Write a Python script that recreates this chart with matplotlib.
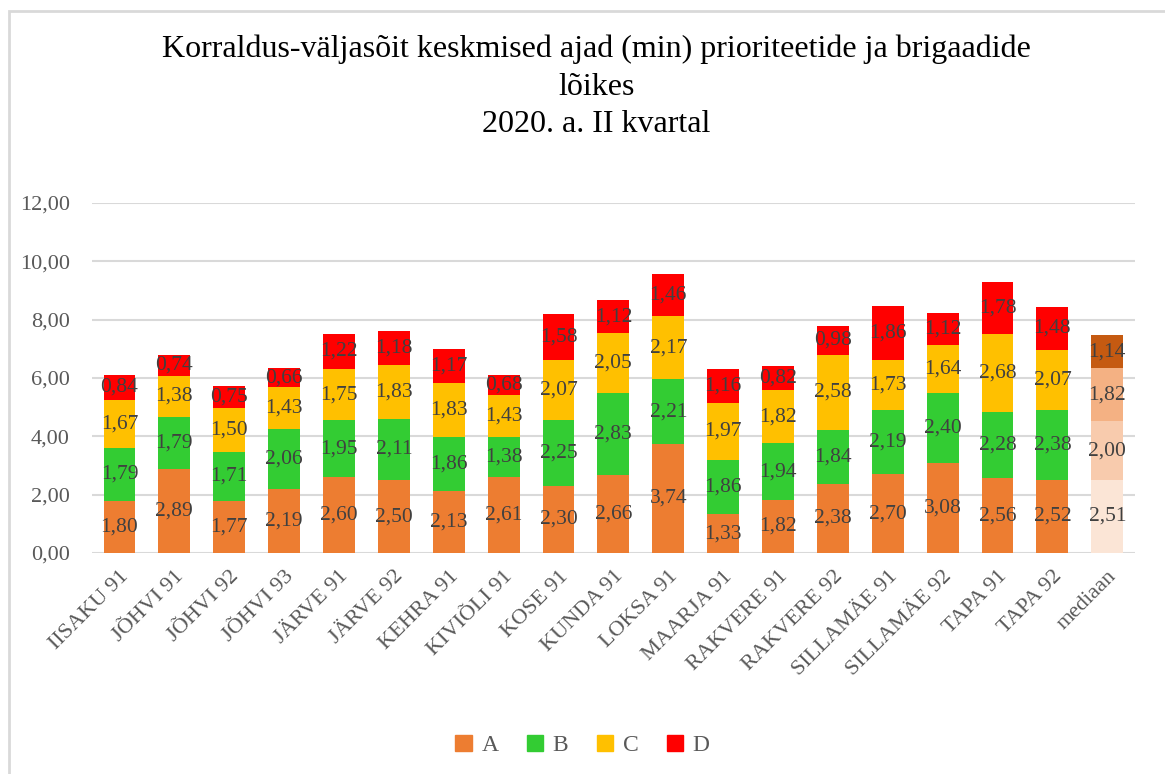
import numpy as np
import matplotlib
matplotlib.use('Agg')
import matplotlib.pyplot as plt
from matplotlib.patches import Rectangle

# data
brigades = ['IISAKU 91', 'JÕHVI 91', 'JÕHVI 92', 'JÕHVI 93', 'JÄRVE 91', 'JÄRVE 92',
            'KEHRA 91', 'KIVIÕLI 91', 'KOSE 91', 'KUNDA 91', 'LOKSA 91', 'MAARJA 91',
            'RAKVERE 91', 'RAKVERE 92', 'SILLAMÄE 91', 'SILLAMÄE 92', 'TAPA 91',
            'TAPA 92', 'mediaan']
A = [1.80, 2.89, 1.77, 2.19, 2.60, 2.50, 2.13, 2.61, 2.30, 2.66, 3.74, 1.33,
     1.82, 2.38, 2.70, 3.08, 2.56, 2.52, 2.51]
B = [1.79, 1.79, 1.71, 2.06, 1.95, 2.11, 1.86, 1.38, 2.25, 2.83, 2.21, 1.86,
     1.94, 1.84, 2.19, 2.40, 2.28, 2.38, 2.00]
C = [1.67, 1.38, 1.50, 1.43, 1.75, 1.83, 1.83, 1.43, 2.07, 2.05, 2.17, 1.97,
     1.82, 2.58, 1.73, 1.64, 2.68, 2.07, 1.82]
D = [0.84, 0.74, 0.75, 0.66, 1.22, 1.18, 1.17, 0.68, 1.58, 1.12, 1.46, 1.16,
     0.82, 0.98, 1.86, 1.12, 1.78, 1.48, 1.14]
series_names = ['A', 'B', 'C', 'D']

colors = ['#ED7D31', '#33CC33', '#FFC000', '#FF0000']
median_colors = ['#FBE5D6', '#F8CBAD', '#F4B183', '#C55A11']

plt.rcParams['font.family'] = ['Liberation Serif', 'DejaVu Serif']

fig = plt.figure(figsize=(11.65, 7.74), dpi=100)
ax = fig.add_axes([0.079, 0.2855, 0.895, 0.4522])

x = np.arange(len(brigades))
bottom = np.zeros(len(brigades))
width = 0.58
for vals, name, c, mc in zip([A, B, C, D], series_names, colors, median_colors):
    vals = np.array(vals)
    cols = [c] * (len(brigades) - 1) + [mc]
    ax.bar(x, vals, width, bottom=bottom, color=cols, label=name, zorder=3)
    for xi, b, v in zip(x, bottom, vals):
        ax.text(xi, b + v / 2, ('%.2f' % v).replace('.', ','), ha='center', va='center',
                fontsize=15.5, color='#404040', zorder=4)
    bottom += vals

ax.set_xlim(-0.5, len(brigades) - 0.5)
ax.set_ylim(0, 12)
ax.set_yticks(np.arange(0, 13, 2))
ax.set_yticklabels([('%.2f' % v).replace('.', ',') for v in np.arange(0, 13, 2)],
                   fontsize=16, color='#595959')
ax.set_xticks(x)
ax.set_xticklabels(brigades, rotation=45, ha='right', va='top', rotation_mode='anchor',
                   fontsize=16, color='#595959')
ax.tick_params(axis='both', length=0)
ax.tick_params(axis='y', pad=16)
ax.tick_params(axis='x', pad=10)
ax.grid(axis='y', color='#D9D9D9', linewidth=1.5, zorder=0)
for s in ax.spines.values():
    s.set_visible(False)

fig.text(0.512, 0.955, 'Korraldus-väljasõit keskmised ajad (min) prioriteetide ja brigaadide\nlõikes\n2020. a. II kvartal',
         ha='center', va='top', fontsize=23, linespacing=1.38)

leg = fig.legend(loc='center', bbox_to_anchor=(0.5, 0.037), ncol=4, frameon=False,
                 fontsize=17, handlelength=0.7, handleheight=0.7, columnspacing=1.2,
                 handletextpad=0.4)
for t in leg.get_texts():
    t.set_color('#595959')
for h, c in zip(leg.legend_handles, colors):
    h.set_color(c)

fig.patches.append(Rectangle((9 / 1165, -0.1), 1.2, 1 - 11 / 774 + 0.1, transform=fig.transFigure,
                             fill=False, edgecolor='#D9D9D9', linewidth=2))

plt.savefig('out.png', dpi=100)
